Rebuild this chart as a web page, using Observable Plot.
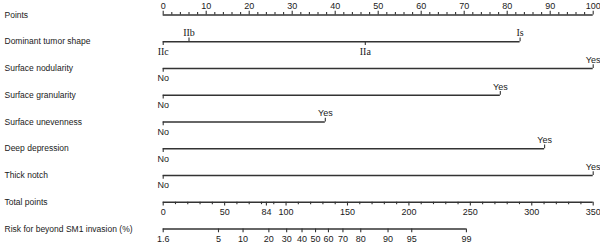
<!DOCTYPE html>
<html><head><meta charset="utf-8">
<script src="https://cdn.jsdelivr.net/npm/d3@7"></script>
<script src="https://cdn.jsdelivr.net/npm/@observablehq/plot@0.6"></script>
<style>body{margin:0;background:#fff} svg{display:block}</style>
</head><body><div id="chart"></div>
<script>
// ---- data ----
const rows = ["Points", "Dominant tumor shape", "Surface nodularity", "Surface granularity",
  "Surface unevenness", "Deep depression", "Thick notch", "Total points",
  "Risk for beyond SM1 invasion (%)"];

const pointsLabels = [0, 10, 20, 30, 40, 50, 60, 70, 80, 90, 100];
const pointsMinorStep = 2;

const shapeLevels = ["IIc", "IIb", "IIa", "Is"];
const shapePoints = [0, 6, 47, 83];

const binaryVars = ["Surface nodularity", "Surface granularity", "Surface unevenness", "Deep depression", "Thick notch"];
const binaryLevels = ["No", "Yes"];
const binaryYesPoints = [100, 78.4, 37.7, 88.7, 100];

const totalLabels = [0, 50, 84, 100, 150, 200, 250, 300, 350];
const totalMinorStep = 10;

const riskLabels = ["1.6", "5", "10", "20", "30", "40", "50", "60", "70", "80", "90", "95", "99"];
const riskTotalPoints = [0, 45, 65, 86, 100.5, 113, 124, 134.5, 146.3, 160.8, 183, 202.3, 246.8];

// ---- build tables ----
const totalMax = d3.max(totalLabels);
const toPts = t => t * 100 / totalMax;
const R = name => rows.indexOf(name);
const tMaj = 0.14, tMin = 0.09;

const lines = [], ticks = [], labels = [];

// Points axis (labels above, ticks up)
{
  const r = R("Points");
  lines.push({row: r, x1: 0, x2: 100});
  for (let p = 0; p <= 100; p += pointsMinorStep) {
    const major = pointsLabels.includes(p);
    ticks.push({x: p, y1: r, y2: r - (major ? tMaj : tMin)});
  }
  pointsLabels.forEach(p => labels.push({row: r, x: p, text: String(p), side: "above", serif: false}));
}
// Dominant tumor shape
{
  const r = R("Dominant tumor shape");
  lines.push({row: r, x1: d3.min(shapePoints), x2: d3.max(shapePoints)});
  shapeLevels.forEach((lv, i) => {
    const up = i % 2 === 1;
    ticks.push({x: shapePoints[i], y1: r, y2: r + (up ? -tMaj : tMaj)});
    labels.push({row: r, x: shapePoints[i], text: lv, side: up ? "above" : "below", serif: true});
  });
}
// Binary variables
binaryVars.forEach((v, i) => {
  const r = R(v);
  const pts = [0, binaryYesPoints[i]];
  lines.push({row: r, x1: 0, x2: pts[1]});
  binaryLevels.forEach((lv, j) => {
    const up = j === 1;
    ticks.push({x: pts[j], y1: r, y2: r + (up ? -tMaj : tMaj)});
    labels.push({row: r, x: pts[j], text: lv, side: up ? "above" : "below", serif: false});
  });
});
// Total points (labels below, ticks down)
{
  const r = R("Total points");
  lines.push({row: r, x1: 0, x2: toPts(totalMax)});
  for (let t = 0; t <= totalMax; t += totalMinorStep) {
    const major = totalLabels.includes(t);
    ticks.push({x: toPts(t), y1: r, y2: r + (major ? tMaj : tMin)});
  }
  totalLabels.forEach(t => {
    if (!(t % totalMinorStep === 0)) ticks.push({x: toPts(t), y1: r, y2: r + tMaj});
    labels.push({row: r, x: toPts(t), text: String(t), side: "below", serif: false});
  });
}
// Risk axis
{
  const r = R("Risk for beyond SM1 invasion (%)");
  lines.push({row: r, x1: 0, x2: toPts(d3.max(riskTotalPoints))});
  riskLabels.forEach((lab, i) => {
    ticks.push({x: toPts(riskTotalPoints[i]), y1: r, y2: r + tMaj});
    labels.push({row: r, x: toPts(riskTotalPoints[i]), text: lab, side: "below", serif: false});
  });
}

const ink = "#1a1a1a";
const sans = "'Liberation Sans', Arial, sans-serif";
const serif = "'Liberation Serif', 'Times New Roman', serif";

const chart = Plot.plot({
  width: 600,
  height: 243,
  marginLeft: 0, marginRight: 0, marginTop: 0, marginBottom: 0,
  x: {domain: [0, 100], range: [162.7, 592.7], axis: null},
  y: {domain: [0, rows.length - 1], range: [14.5, 228.5], axis: null},
  style: {fontFamily: sans, background: "#fff", color: ink},
  marks: [
    Plot.ruleY(lines, {y: "row", x1: "x1", x2: "x2", stroke: "#333", strokeWidth: 1.3}),
    Plot.ruleX(ticks, {x: "x", y1: "y1", y2: "y2", stroke: "#333", strokeWidth: 1.1}),
    Plot.text(rows, {y: (d, i) => i, text: d => d, frameAnchor: "left", dx: 4, textAnchor: "start", fontSize: 8.5, fill: ink}),
    Plot.text(labels.filter(d => d.side === "above" && !d.serif), {x: "x", y: "row", text: "text", dy: -8.5, fontSize: 9, fill: ink}),
    Plot.text(labels.filter(d => d.side === "below" && !d.serif), {x: "x", y: "row", text: "text", dy: 10, fontSize: 9, fill: ink}),
    Plot.text(labels.filter(d => d.side === "above" && d.serif), {x: "x", y: "row", text: "text", dy: -8.5, fontSize: 10, fill: ink, fontFamily: serif}),
    Plot.text(labels.filter(d => d.side === "below" && d.serif), {x: "x", y: "row", text: "text", dy: 10, fontSize: 10, fill: ink, fontFamily: serif})
  ]
});
document.getElementById("chart").appendChild(chart);
</script>
</body></html>
